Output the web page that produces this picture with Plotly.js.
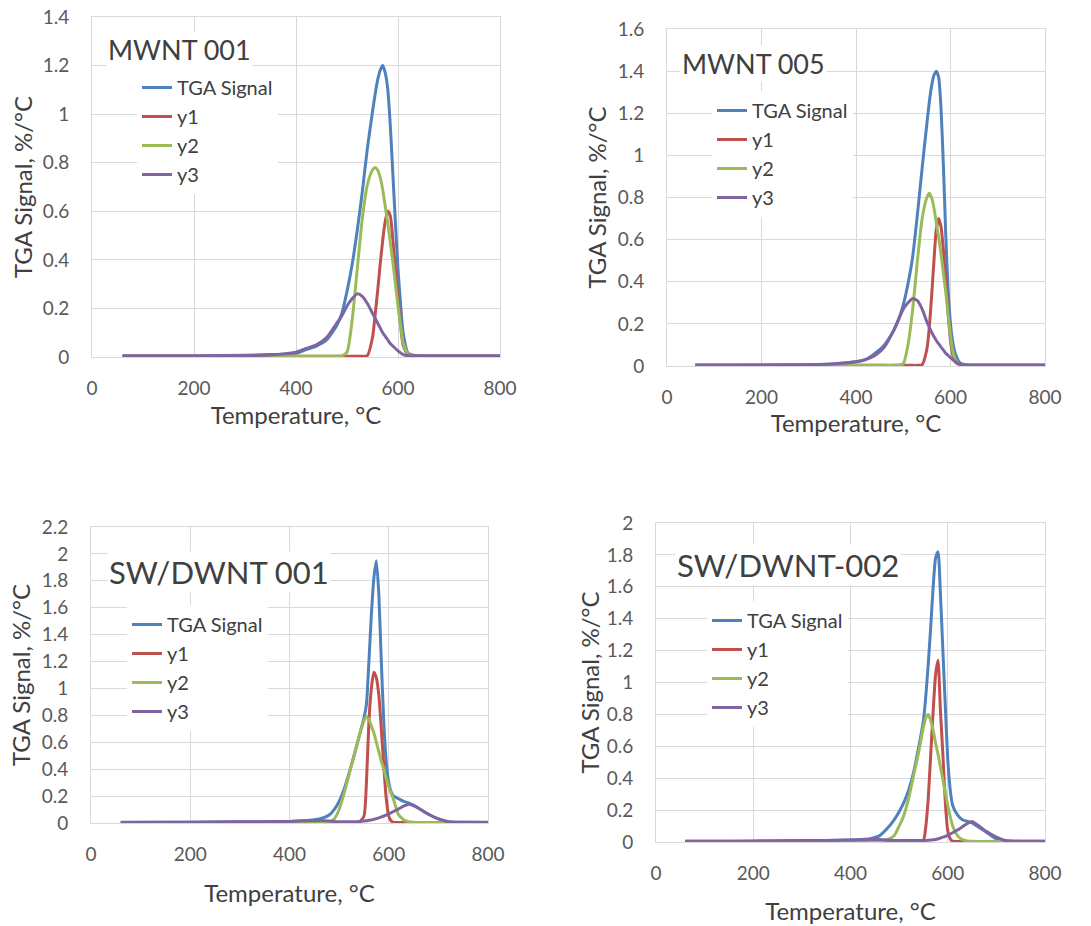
<!DOCTYPE html>
<html><head><meta charset="utf-8">
<script src="https://cdn.plot.ly/plotly-3.0.1.min.js"></script>
<style>html,body{margin:0;padding:0;background:#fff}#chart{width:1091px;height:926px}</style>
</head><body><div id="chart"></div>
<script>
// Temperature sampling points (°C), shared by all four panels
const temps = [60,150,250,350,400,420,440,460,480,490,500,510,520,530,540,550,555,560,565,570,575,580,585,590,595,600,605,610,620,630,640,650,660,680,700,720,750,800];

const seriesNames = ['TGA Signal','y1','y2','y3'];
const panelTitles = ['MWNT 001','MWNT 005','SW/DWNT 001','SW/DWNT-002'];
const xTitle = 'Temperature, °C';
const yTitle = 'TGA Signal, %/°C';

// MWNT 001
const mwnt001_tga = [0.005,0.005,0.006,0.01,0.015,0.03,0.045,0.07,0.13,0.18,0.27,0.38,0.52,0.68,0.86,1.01,1.08,1.14,1.18,1.2,1.17,1.1,0.95,0.75,0.55,0.36,0.22,0.1,0.015,0.007,0.006,0.005,0.005,0.005,0.005,0.005,0.005,0.005];
const mwnt001_y1  = [0.003,0.003,0.003,0.003,0.003,0.003,0.003,0.003,0.003,0.003,0.003,0.003,0.003,0.003,0.006,0.08,0.17,0.27,0.38,0.48,0.56,0.6,0.58,0.48,0.36,0.24,0.13,0.05,0.005,0.003,0.003,0.003,0.003,0.003,0.003,0.003,0.003,0.003];
const mwnt001_y2  = [0.003,0.003,0.003,0.003,0.003,0.003,0.003,0.003,0.003,0.005,0.02,0.15,0.36,0.57,0.71,0.77,0.78,0.77,0.74,0.69,0.62,0.55,0.47,0.39,0.3,0.21,0.13,0.06,0.01,0.003,0.003,0.003,0.003,0.003,0.003,0.003,0.003,0.003];
const mwnt001_y3  = [0.004,0.004,0.005,0.008,0.02,0.035,0.05,0.08,0.14,0.17,0.21,0.24,0.26,0.25,0.22,0.18,0.16,0.14,0.12,0.1,0.085,0.07,0.055,0.045,0.035,0.025,0.017,0.01,0.005,0.004,0.004,0.004,0.004,0.004,0.004,0.004,0.004,0.004];

// MWNT 005
const mwnt005_tga = [0.005,0.005,0.006,0.01,0.02,0.03,0.06,0.1,0.17,0.22,0.29,0.39,0.52,0.72,0.94,1.15,1.25,1.33,1.38,1.4,1.37,1.22,0.95,0.62,0.36,0.2,0.11,0.06,0.015,0.007,0.005,0.005,0.005,0.005,0.005,0.005,0.005,0.005];
const mwnt005_y1  = [0.003,0.003,0.003,0.003,0.003,0.003,0.003,0.003,0.003,0.003,0.003,0.003,0.003,0.003,0.006,0.08,0.18,0.33,0.5,0.65,0.7,0.66,0.55,0.4,0.25,0.12,0.05,0.02,0.005,0.003,0.003,0.003,0.003,0.003,0.003,0.003,0.003,0.003];
const mwnt005_y2  = [0.003,0.003,0.003,0.003,0.003,0.003,0.003,0.003,0.003,0.004,0.01,0.1,0.27,0.5,0.7,0.8,0.82,0.8,0.75,0.68,0.61,0.53,0.44,0.35,0.24,0.14,0.07,0.03,0.005,0.003,0.003,0.003,0.003,0.003,0.003,0.003,0.003,0.003];
const mwnt005_y3  = [0.004,0.004,0.005,0.01,0.02,0.03,0.05,0.09,0.17,0.22,0.27,0.3,0.32,0.31,0.27,0.21,0.185,0.16,0.14,0.12,0.105,0.09,0.075,0.06,0.05,0.04,0.03,0.02,0.008,0.005,0.004,0.004,0.004,0.004,0.004,0.004,0.004,0.004];

// SW/DWNT 001
const swdwnt001_tga = [0.005,0.005,0.008,0.01,0.012,0.015,0.02,0.03,0.06,0.1,0.16,0.25,0.37,0.5,0.64,0.78,0.88,1.2,1.55,1.82,1.95,1.7,1.2,0.75,0.45,0.3,0.23,0.2,0.18,0.16,0.15,0.13,0.11,0.065,0.03,0.01,0.006,0.005];
const swdwnt001_y1  = [0.003,0.003,0.003,0.003,0.003,0.003,0.003,0.003,0.003,0.003,0.003,0.003,0.003,0.003,0.003,0.05,0.3,0.75,1.0,1.12,1.08,0.95,0.7,0.42,0.18,0.05,0.015,0.005,0.003,0.003,0.003,0.003,0.003,0.003,0.003,0.003,0.003,0.003];
const swdwnt001_y2  = [0.003,0.003,0.003,0.003,0.003,0.003,0.003,0.003,0.008,0.03,0.1,0.22,0.36,0.5,0.64,0.76,0.79,0.77,0.72,0.67,0.6,0.53,0.46,0.4,0.33,0.27,0.22,0.17,0.06,0.025,0.01,0.005,0.003,0.003,0.003,0.003,0.003,0.003];
const swdwnt001_y3  = [0.004,0.005,0.008,0.01,0.012,0.014,0.016,0.018,0.015,0.012,0.01,0.01,0.01,0.01,0.012,0.015,0.017,0.02,0.023,0.027,0.032,0.038,0.045,0.052,0.06,0.068,0.077,0.086,0.105,0.125,0.14,0.13,0.11,0.065,0.03,0.01,0.005,0.004];

// SW/DWNT-002
const swdwnt002_tga = [0.005,0.005,0.006,0.01,0.012,0.015,0.02,0.04,0.1,0.14,0.19,0.25,0.33,0.44,0.59,0.76,0.92,1.12,1.35,1.6,1.78,1.82,1.55,1.2,0.85,0.52,0.33,0.23,0.17,0.14,0.13,0.12,0.1,0.06,0.02,0.008,0.005,0.005];
const swdwnt002_y1  = [0.003,0.003,0.003,0.003,0.003,0.003,0.003,0.003,0.003,0.003,0.003,0.003,0.003,0.003,0.003,0.01,0.1,0.28,0.55,0.82,1.05,1.14,0.82,0.55,0.25,0.07,0.02,0.005,0.003,0.003,0.003,0.003,0.003,0.003,0.003,0.003,0.003,0.003];
const swdwnt002_y2  = [0.003,0.003,0.003,0.003,0.003,0.003,0.003,0.003,0.02,0.04,0.1,0.17,0.28,0.42,0.56,0.72,0.78,0.8,0.76,0.7,0.62,0.55,0.47,0.39,0.31,0.23,0.16,0.1,0.04,0.015,0.007,0.004,0.003,0.003,0.003,0.003,0.003,0.003];
const swdwnt002_y3  = [0.004,0.005,0.008,0.01,0.012,0.014,0.016,0.016,0.012,0.01,0.01,0.01,0.01,0.01,0.01,0.01,0.01,0.011,0.012,0.014,0.016,0.02,0.025,0.03,0.036,0.043,0.05,0.058,0.075,0.095,0.115,0.128,0.11,0.065,0.03,0.008,0.005,0.004];

const panelData = [
  [mwnt001_tga, mwnt001_y1, mwnt001_y2, mwnt001_y3],
  [mwnt005_tga, mwnt005_y1, mwnt005_y2, mwnt005_y3],
  [swdwnt001_tga, swdwnt001_y1, swdwnt001_y2, swdwnt001_y3],
  [swdwnt002_tga, swdwnt002_y1, swdwnt002_y2, swdwnt002_y3]
];
const yMax = [1.4, 1.6, 2.2, 2.0];

// ---- layout (pixels) ----
const W = 1091, H = 926;
const colors = ['#4f81bd','#c0504d','#9bbb59','#8064a2'];
const FONT = 'Lato, "Open Sans", sans-serif';
const panels = [
  {box:[92,500,17,357],  title:[106,50,27],  legend:[122,87],  xstand:9,  ystand:3},
  {box:[667,1045,29,366],title:[680,63,27],  legend:[697,110], xstand:0,  ystand:4},
  {box:[91,488,527,823], title:[107,572,31], legend:[112,624], xstand:21, ystand:4},
  {box:[656,1045,523,842],title:[675,565,31],legend:[692,620], xstand:20, ystand:0}
];

const traces = [];
const layout = {
  width: W, height: H,
  margin: {l:0, r:0, t:0, b:0},
  paper_bgcolor: '#ffffff', plot_bgcolor: '#ffffff',
  font: {family: FONT, color: '#595959', size: 19},
  showlegend: true,
  annotations: []
};

panels.forEach((p, i) => {
  const n = i === 0 ? '' : String(i + 1);
  const [x0, x1, y0, y1] = p.box;
  const legendKey = 'legend' + n;
  panelData[i].forEach((vals, k) => {
    traces.push({
      type: 'scatter', mode: 'lines',
      x: temps, y: vals, name: seriesNames[k],
      xaxis: 'x' + n, yaxis: 'y' + n,
      legend: legendKey,
      line: {color: colors[k], width: 3, shape: 'spline', smoothing: 0.6}
    });
  });
  layout['xaxis' + n] = {
    domain: [x0 / W, x1 / W], anchor: 'y' + n,
    range: [0, 800], dtick: 200, tick0: 0,
    showgrid: true, gridcolor: '#d9d9d9', gridwidth: 1,
    showline: true, linecolor: '#d9d9d9', mirror: true,
    zeroline: false, ticks: '', ticklabelstandoff: 14,
    tickfont: {size: 19, color: '#595959', family: FONT},
    title: {text: xTitle, font: {size: 24, color: '#404040', family: FONT}, standoff: p.xstand}
  };
  layout['yaxis' + n] = {
    domain: [1 - y1 / H, 1 - y0 / H], anchor: 'x' + n,
    range: [0, yMax[i]], dtick: 0.2, tick0: 0,
    showgrid: true, gridcolor: '#d9d9d9', gridwidth: 1,
    showline: true, linecolor: '#d9d9d9', mirror: true,
    zeroline: false, ticks: '', ticklabelstandoff: 18,
    tickfont: {size: 19, color: '#595959', family: FONT},
    title: {text: yTitle, font: {size: 24, color: '#404040', family: FONT}, standoff: p.ystand}
  };
  layout[legendKey] = {
    x: (p.legend[0] + 15) / W, xanchor: 'left',
    y: 1 - (p.legend[1] - 19) / H, yanchor: 'top',
    bgcolor: '#ffffff', borderwidth: 0,
    font: {size: 20, color: '#404040', family: FONT},
    tracegroupgap: 0
  };
  layout.annotations.push({
    xref: 'paper', yref: 'paper',
    x: p.title[0] / W, y: 1 - p.title[1] / H,
    xanchor: 'left', yanchor: 'middle',
    text: panelTitles[i], showarrow: false,
    bgcolor: '#ffffff',
    font: {size: p.title[2], color: '#404040', family: FONT}
  });
});

Plotly.newPlot('chart', traces, layout, {displayModeBar: false, staticPlot: true});
</script>
</body></html>
